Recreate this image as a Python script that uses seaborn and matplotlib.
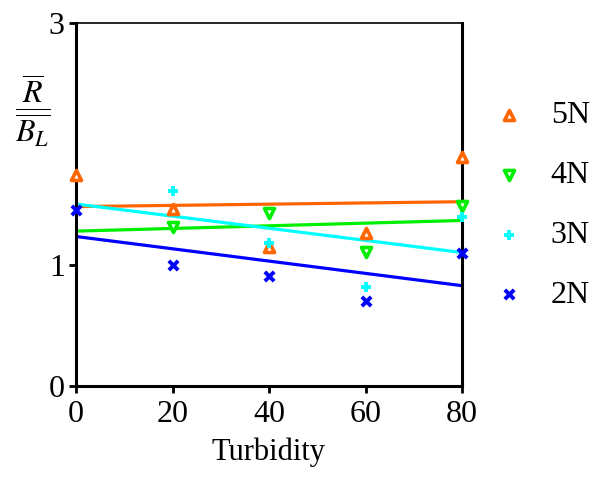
import numpy as np
import pandas as pd
import matplotlib
matplotlib.use("Agg")
import matplotlib.pyplot as plt
import seaborn as sns

# Data: ratio R/B_L against turbidity for four load levels
turbidity = [0, 20, 40, 60, 80]
ratio_5n = [1.744, 1.463, 1.15, 1.262, 1.895]
ratio_4n = [np.nan, 1.31, 1.43, 1.11, 1.49]
ratio_3n = [np.nan, 1.614, 1.18, 0.82, 1.40]
ratio_2n = [1.455, 1.0, 0.91, 0.70, 1.097]
series_labels = ["5N", "4N", "3N", "2N"]
y_ticks = [0, 1, 3]
x_ticks = [0, 20, 40, 60, 80]

colors = ["#FF6600", "#00EE00", "#00FFFF", "#0000FF"]
markers = ["^", "v", "+", "x"]

sns.set_theme(style="white")
plt.rcParams["font.family"] = ["Liberation Serif", "DejaVu Serif"]
plt.rcParams["mathtext.fontset"] = "stix"
plt.rcParams["text.color"] = "black"
plt.rcParams["axes.labelcolor"] = "black"
plt.rcParams["xtick.color"] = "black"
plt.rcParams["ytick.color"] = "black"

fig = plt.figure(figsize=(6.09, 4.87), dpi=100)
ax = fig.add_axes([76 / 609, 1 - 386 / 487, (462 - 76) / 609, (386 - 23) / 487])

ax.set_xlim(0, 80)
ax.set_ylim(0, 3)

all_series = [ratio_5n, ratio_4n, ratio_3n, ratio_2n]

# Linear trend lines across the full turbidity range
for vals, col in zip(all_series, colors):
    df = pd.DataFrame({"Turbidity": turbidity, "ratio": vals})
    sns.regplot(data=df, x="Turbidity", y="ratio", ax=ax, scatter=False,
                ci=None, truncate=False, color=col,
                line_kws={"lw": 2.3, "solid_capstyle": "butt"})
ax.set_xlim(0, 80)
ax.set_ylim(0, 3)

# Measured points
handles = []
for vals, col, mk, lab in zip(all_series, colors, markers, series_labels):
    df = pd.DataFrame({"Turbidity": turbidity, "ratio": vals})
    if mk in ("^", "v"):
        kw = dict(marker=mk, s=52, facecolor="white", edgecolor=col, linewidth=2.6)
    elif mk == "+":
        kw = dict(marker="+", s=45, color=col, linewidth=2.8)
    else:
        kw = dict(marker="x", s=45, color=col, linewidth=2.8)
    sns.scatterplot(data=df, x="Turbidity", y="ratio", ax=ax, label=lab,
                    clip_on=False, zorder=5, legend=False, **kw)
    handles.append(ax.collections[-1])

ax.set_xticks(x_ticks)
ax.set_yticks(y_ticks)
ax.tick_params(axis="both", which="both", direction="out", length=5, width=2,
               labelsize=23, color="black", labelcolor="black",
               left=True, bottom=True)
ax.tick_params(axis="x", pad=5)
ax.tick_params(axis="y", pad=3)

for side in ["left", "bottom", "right"]:
    ax.spines[side].set_linewidth(2.2)
    ax.spines[side].set_color("black")
ax.spines["top"].set_linewidth(1.2)
ax.spines["top"].set_color("black")

ax.set_xlabel("Turbidity", fontsize=22, labelpad=6, color="black")
ax.set_ylabel("")

fig.text(33 / 609, 1 - 111 / 487, r"$\dfrac{\overline{R}}{\overline{B_L}}$",
         fontsize=23, ha="center", va="center", color="black")

ax.legend(handles=handles, labels=series_labels, loc="upper left",
          bbox_to_anchor=(1.048, 0.82), frameon=False, fontsize=23,
          labelspacing=0.95, handletextpad=0.8, handlelength=1.0,
          borderaxespad=0, labelcolor="black")

fig.savefig("out.png", dpi=100)
